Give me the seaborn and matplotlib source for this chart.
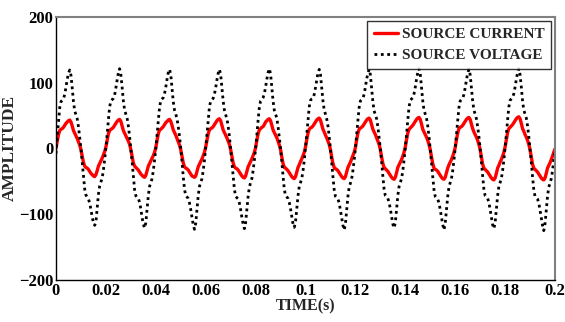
import numpy as np
import pandas as pd
import matplotlib
matplotlib.use("Agg")
import matplotlib.pyplot as plt
import seaborn as sns

voltage = [
    -8, 18, 40, 62, 71, 73, 75, 82, 93, 105, 114, 119, 111, 92, 71, 57, 51, 45, 33, 17,
    0, -21, -43, -62, -71, -74, -77, -83, -93, -104, -113, -117, -112, -91, -70, -57, -51, -45, -33, -17,
    1, 21, 43, 63, 72, 74, 76, 81, 92, 104, 115, 121, 112, 93, 72, 58, 52, 46, 34, 18,
    -1, -20, -42, -63, -72, -75, -76, -82, -92, -105, -115, -121, -113, -92, -72, -58, -52, -46, -34, -18,
    0, 20, 42, 62, 73, 75, 77, 83, 93, 105, 115, 120, 112, 92, 71, 58, 52, 45, 33, 18,
    0, -20, -43, -62, -72, -74, -76, -83, -93, -105, -116, -123, -114, -93, -72, -58, -52, -46, -34, -18,
    1, 21, 42, 63, 72, 74, 76, 82, 92, 104, 114, 120, 112, 92, 72, 58, 51, 45, 34, 18,
    -1, -21, -42, -62, -73, -75, -77, -83, -93, -105, -115, -122, -113, -93, -73, -59, -52, -46, -34, -18,
    0, 20, 43, 62, 72, 74, 77, 83, 93, 105, 115, 121, 113, 93, 72, 58, 52, 46, 33, 17,
    0, -20, -42, -62, -72, -74, -76, -82, -92, -104, -115, -120, -112, -92, -72, -58, -52, -46, -34, -18,
    1, 21, 42, 63, 73, 75, 76, 82, 92, 104, 115, 120, 112, 92, 72, 58, 52, 45, 34, 18,
    -1, -21, -43, -63, -73, -75, -77, -83, -94, -106, -117, -124, -115, -94, -73, -59, -53, -46, -34, -18,
    0, 20, 42, 62, 72, 74, 76, 82, 93, 105, 114, 120, 112, 92, 71, 57, 51, 45, 33, 17,
    0, -20, -42, -62, -72, -74, -76, -82, -92, -104, -115, -121, -113, -92, -72, -58, -52, -46, -34, -18,
    1, 21, 43, 63, 73, 75, 77, 83, 93, 105, 115, 121, 113, 93, 72, 58, 52, 46, 34, 18,
    -1, -21, -43, -63, -73, -75, -77, -83, -93, -105, -116, -124, -114, -93, -73, -59, -52, -46, -34, -18,
    0, 20, 42, 62, 72, 74, 76, 82, 92, 104, 114, 120, 112, 92, 72, 58, 52, 45, 33, 18,
    0, -20, -42, -62, -72, -74, -76, -82, -93, -105, -116, -122, -113, -93, -72, -58, -52, -46, -34, -18,
    1, 21, 43, 63, 73, 75, 77, 83, 93, 105, 115, 121, 112, 93, 72, 58, 52, 46, 34, 18,
    -1, -21, -43, -63, -73, -75, -77, -83, -94, -106, -117, -125, -115, -94, -73, -59, -53, -46, -34, -18,
    -5,
]

current = [
    0, 11, 21, 27, 29, 30, 32, 35, 38, 40, 42, 43, 40, 34, 27, 23, 19, 15, 10, 5,
    -2, -12, -21, -27, -29, -30, -32, -35, -38, -40, -42, -43, -40, -34, -27, -23, -19, -15, -10, -5,
    2, 12, 22, 27, 29, 30, 32, 35, 38, 41, 43, 44, 41, 34, 27, 23, 19, 15, 11, 6,
    -2, -12, -22, -27, -29, -31, -33, -36, -39, -41, -43, -44, -41, -34, -27, -23, -19, -15, -11, -6,
    1, 12, 22, 28, 29, 31, 33, 36, 39, 41, 43, 44, 41, 35, 28, 24, 20, 15, 10, 5,
    -2, -12, -22, -28, -30, -31, -33, -36, -39, -42, -43, -44, -42, -35, -28, -24, -20, -16, -11, -6,
    2, 12, 22, 28, 30, 31, 33, 36, 39, 42, 44, 45, 42, 35, 28, 24, 20, 16, 11, 6,
    -2, -12, -22, -28, -30, -31, -33, -36, -39, -42, -44, -45, -42, -35, -28, -24, -20, -16, -11, -6,
    1, 12, 22, 28, 30, 32, 33, 36, 40, 42, 44, 45, 42, 35, 28, 24, 20, 16, 11, 5,
    -2, -13, -23, -29, -30, -32, -34, -37, -40, -43, -45, -46, -43, -36, -29, -25, -20, -16, -11, -6,
    2, 13, 23, 29, 31, 32, 34, 37, 40, 43, 45, 46, 43, 36, 29, 25, 20, 16, 11, 6,
    -2, -13, -23, -29, -31, -32, -34, -37, -40, -43, -45, -46, -43, -36, -29, -25, -21, -16, -11, -6,
    1, 13, 23, 29, 31, 32, 34, 37, 40, 43, 45, 46, 43, 36, 29, 25, 21, 16, 11, 6,
    -2, -13, -23, -29, -31, -33, -35, -38, -41, -44, -46, -47, -44, -37, -29, -25, -21, -17, -12, -6,
    2, 13, 23, 29, 31, 33, 35, 38, 41, 44, 46, 47, 44, 37, 29, 25, 21, 17, 12, 6,
    -2, -13, -23, -30, -32, -33, -35, -38, -41, -44, -46, -47, -44, -37, -30, -25, -21, -17, -12, -6,
    1, 13, 23, 30, 32, 33, 35, 38, 41, 44, 46, 47, 44, 37, 30, 25, 21, 17, 12, 6,
    -2, -13, -24, -30, -32, -34, -36, -39, -42, -45, -47, -48, -45, -38, -30, -26, -21, -17, -12, -6,
    2, 13, 24, 30, 32, 34, 36, 39, 42, 45, 47, 48, 45, 38, 30, 26, 21, 17, 12, 6,
    -2, -13, -24, -30, -32, -34, -36, -39, -42, -45, -47, -48, -45, -38, -30, -26, -22, -17, -12, -6,
    -1,
]

time_s = np.linspace(0.0, 0.2, len(voltage))

x_ticks = [0, 0.02, 0.04, 0.06, 0.08, 0.1, 0.12, 0.14, 0.16, 0.18, 0.2]
x_tick_labels = ["0", "0.02", "0.04", "0.06", "0.08", "0.1", "0.12", "0.14", "0.16", "0.18", "0.2"]
y_ticks = [-200, -100, 0, 100, 200]

df = pd.DataFrame({"time": time_s, "current": current, "voltage": voltage})

sns.set_style("white")
plt.rcParams["font.family"] = ["Liberation Serif", "DejaVu Serif"]
plt.rcParams["font.weight"] = "bold"

fig = plt.figure(figsize=(5.65, 3.22), dpi=100)
ax = fig.add_axes([56 / 565, 1 - 280 / 322, (555 - 56) / 565, (280 - 16.7) / 322])

sns.lineplot(data=df, x="time", y="current", ax=ax, color="#ff0000", lw=2.4,
             label="SOURCE CURRENT")
sns.lineplot(data=df, x="time", y="voltage", ax=ax, color="black", lw=2.0,
             linestyle=(0, (1, 1.3)), label="SOURCE VOLTAGE")

ax.set_xlim(0, 0.2)
ax.set_ylim(-200, 200)
ax.set_xticks(x_ticks)
ax.set_xticklabels(x_tick_labels)
ax.set_yticks(y_ticks)
ax.tick_params(axis="both", direction="in", length=3, width=0.8, labelsize=12,
               pad=2, colors="black")
for lab in ax.get_xticklabels() + ax.get_yticklabels():
    lab.set_fontweight("bold")

ax.set_xlabel("TIME(s)", fontsize=11.5, fontweight="bold", labelpad=0)
ax.set_ylabel("AMPLITUDE", fontsize=12.5, fontweight="bold")
ax.yaxis.set_label_coords((18 - 56) / 499, 0.5)

for side in ["left", "bottom"]:
    ax.spines[side].set_color("black")
    ax.spines[side].set_linewidth(1.0)
for side in ["top", "right"]:
    ax.spines[side].set_color("#808080")
    ax.spines[side].set_linewidth(1.5)

leg = ax.legend(loc="upper right", fontsize=11, frameon=True, fancybox=False,
                borderaxespad=0.25, handlelength=1.55, handletextpad=0.25,
                borderpad=0.45, labelspacing=0.5)
leg.get_frame().set_edgecolor("black")
leg.get_frame().set_linewidth(1.0)
for t in leg.get_texts():
    t.set_fontweight("bold")

fig.savefig("out.png", dpi=100)
